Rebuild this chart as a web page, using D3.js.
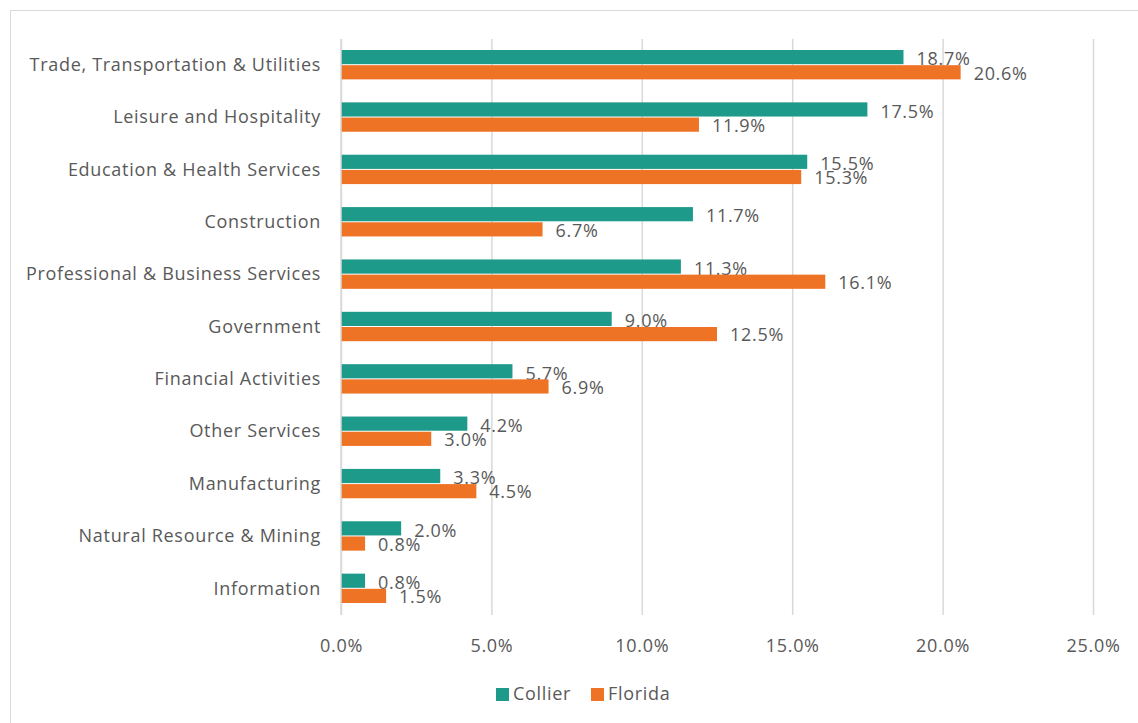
<!DOCTYPE html>
<html>
<head>
<meta charset="utf-8">
<script src="https://cdn.jsdelivr.net/npm/d3@7"></script>
<style>
  body { margin: 0; background: #fff; }
  svg text { font-family: "Open Sans", sans-serif; fill: #595959; letter-spacing: 0.7px; }
</style>
</head>
<body>
<svg width="1138" height="723"></svg>
<script>
var categories = ['Trade, Transportation & Utilities', 'Leisure and Hospitality', 'Education & Health Services',
    'Construction', 'Professional & Business Services', 'Government', 'Financial Activities',
    'Other Services', 'Manufacturing', 'Natural Resource & Mining', 'Information'];
var collier = [18.7, 17.5, 15.5, 11.7, 11.3, 9.0, 5.7, 4.2, 3.3, 2.0, 0.8];
var florida = [20.6, 11.9, 15.3, 6.7, 16.1, 12.5, 6.9, 3.0, 4.5, 0.8, 1.5];
var xTicks = [0, 5, 10, 15, 20, 25];
var seriesNames = ['Collier', 'Florida'];
var colors = ['#1e9a8a', '#ee7325'];

var svg = d3.select('svg');
var margin = {t: 39, l: 341, r: 45, b: 108};
var width = 1138 - margin.l - margin.r;
var height = 723 - margin.t - margin.b;

// chart border
svg.append('rect')
    .attr('x', 10.5).attr('y', 10.5)
    .attr('width', 1140).attr('height', 720)
    .attr('fill', 'none').attr('stroke', '#d9d9d9');

var g = svg.append('g').attr('transform', 'translate(' + margin.l + ',' + margin.t + ')');

var xScale = d3.scaleLinear().domain([0, 25]).range([0, width]);
var yScale = d3.scaleBand().domain(categories).range([0, height]).paddingInner(0.42).paddingOuter(0.21);
var inner = d3.scaleBand().domain(seriesNames).range([0, yScale.bandwidth()]);

// grid
var xGrid = d3.axisBottom(xScale).tickValues(xTicks).tickSize(height).tickFormat('');
g.append('g').attr('class', 'grid').call(xGrid)
    .call(function(s) { s.select('.domain').remove(); })
    .selectAll('.tick line').attr('stroke', '#d9d9d9').attr('stroke-width', 1.5);

// tick labels
var xAxis = d3.axisBottom(xScale).tickValues(xTicks).tickSize(0).tickPadding(24)
    .tickFormat(function(d) { return d.toFixed(1) + '%'; });
g.append('g').attr('transform', 'translate(0,' + height + ')').call(xAxis)
    .call(function(s) { s.select('.domain').remove(); })
    .selectAll('text').style('font-size', '18px').attr('fill', '#595959');

// category labels
var yAxis = d3.axisLeft(yScale).tickSize(0).tickPadding(20);
g.append('g').call(yAxis)
    .call(function(s) { s.select('.domain').remove(); })
    .selectAll('text').style('font-size', '18px').attr('fill', '#595959');

var series = [collier, florida];
series.forEach(function(vals, si) {
    var rows = categories.map(function(c, i) { return {cat: c, v: vals[i]}; });
    g.selectAll('.bar' + si).data(rows).enter().append('rect')
        .attr('x', 0)
        .attr('y', function(d) { return yScale(d.cat) + inner(seriesNames[si]); })
        .attr('width', function(d) { return xScale(d.v); })
        .attr('height', inner.bandwidth() - 1)
        .attr('fill', colors[si]);
    g.selectAll('.lbl' + si).data(rows).enter().append('text')
        .attr('x', function(d) { return xScale(d.v) + 13; })
        .attr('y', function(d) { return yScale(d.cat) + inner(seriesNames[si]) + inner.bandwidth() / 2 + (si === 0 ? 1.5 : 0.5); })
        .attr('dy', '0.35em')
        .style('font-size', '18px')
        .text(function(d) { return d.v.toFixed(1) + '%'; });
});

// vertical axis line
g.append('line').attr('x1', 0).attr('x2', 0).attr('y1', 0).attr('y2', height)
    .attr('stroke', '#d9d9d9').attr('stroke-width', 1.5);

// legend
var legend = svg.append('g').attr('transform', 'translate(496,694)');
var lx = [0, 95];
seriesNames.forEach(function(name, i) {
    legend.append('rect').attr('x', lx[i]).attr('y', -6).attr('width', 13).attr('height', 13).attr('fill', colors[i]);
    legend.append('text').attr('x', lx[i] + 17).attr('y', 0).attr('dy', '0.35em')
        .style('font-size', '18px').text(name);
});
</script>
</body>
</html>
